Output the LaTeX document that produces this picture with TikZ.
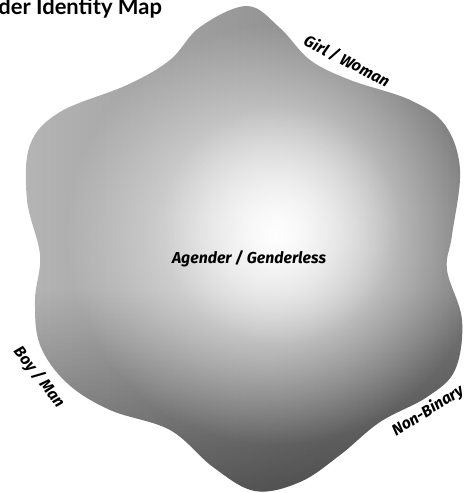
\documentclass[tikz,border=0pt]{standalone}
\usepackage{fontspec}
\setmainfont{Lato}
\newfontfamily\titlefont{Lato}
\newfontfamily\handfont{Fira Sans}
\usetikzlibrary{fadings}

\definecolor{blobleft}{HTML}{B8B8B8}
\definecolor{blobright}{HTML}{7A7A7A}
\tikzfading[name=glowfade, inner color=transparent!0, outer color=transparent!100]

\begin{document}
\begin{tikzpicture}[x=0.02cm, y=-0.02cm,
    zonelabel/.style={font=\handfont\itshape\bfseries\fontsize{9}{11}\selectfont, inner sep=1pt}]
  \useasboundingbox (0,0) rectangle (468,493);
  % title, cut by the left edge
  \node[anchor=base west, inner sep=0pt, font=\titlefont\bfseries\fontsize{12.5}{14}\selectfont] (title) at (-2,15) {der Identity Map};
  % six-lobed blob
  \def\blob{plot[smooth cycle, tension=0.6] coordinates {
    (247,6) (280,28) (310,60) (350,80) (410,100) (445,125) (460,170)
    (452,235) (447,270) (462,320) (455,370) (427,397) (380,422)
    (340,455) (300,482) (255,491) (213,467) (170,430) (110,410)
    (67,383) (40,345) (35,300) (40,255) (27,200) (30,145) (60,112)
    (127,85) (170,60) (200,27)}}
  \begin{scope}
    \clip \blob;
    \shade[left color=blobleft, right color=blobright] (0,0) rectangle (468,493);
    \fill[black, opacity=0.45, path fading=north] (0,290) rectangle (468,493);
    \fill[white, path fading=glowfade] (275,235) circle (210);
    \fill[white, opacity=0.6, path fading=glowfade] (280,225) circle (120);
  \end{scope}
  % zone labels
  \node[zonelabel] (agender) at (249,259) {Agender / Genderless};
  \node[zonelabel, rotate=-27] (girl) at (347,61) {Girl / Woman};
  \node[zonelabel, rotate=-52] (boy) at (39,377) {Boy / Man};
  \node[zonelabel, rotate=32] (nonbin) at (428,411) {Non-Binary};
\end{tikzpicture}
\end{document}
